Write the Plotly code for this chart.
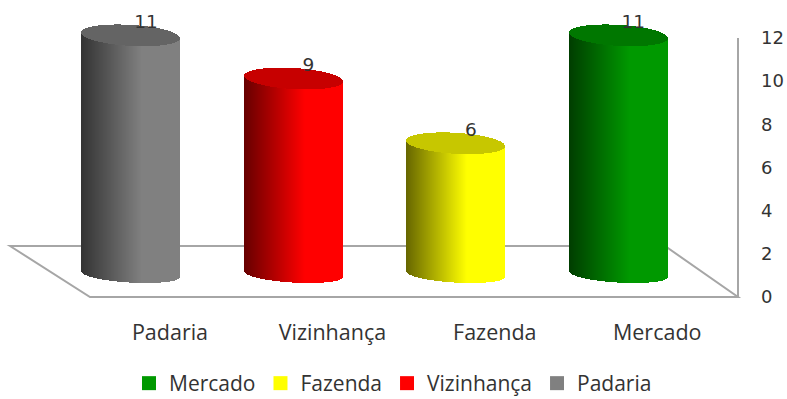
import numpy as np
import plotly.graph_objects as go

categories = ["Padaria", "Vizinhança", "Fazenda", "Mercado"]
values = [11, 9, 6, 11]
base_rgb = [(128, 128, 128), (255, 0, 0), (255, 255, 0), (0, 153, 0)]
legend_order = ["Mercado", "Fazenda", "Vizinhança", "Padaria"]
y_ticks = [0, 2, 4, 6, 8, 10, 12]

W, H = 787, 420                    # paper is a little taller than the window
L, R, B = 60, 738, 297             # plot box in pixels
FLOOR_L = 90                       # front left corner of the floor
Y12 = 38                           # pixel row of the value 12
YMAX = 13.5                        # headroom so the caps are not clamped
PX_Y = (B - Y12) / 12              # pixels per value unit
T = B - YMAX * PX_Y
PX_X = 162.4                       # pixels per category
FIRST = 131                        # pixel centre of first cylinder
LIFT = 1.08                        # floor depth of the cylinder base, value units
TOP_LIFT = 1.14                    # same for the cap centre
A = 49                             # half width in px
TILT = 0.058                       # rim tilt y px per x px
RIM = 10.5                         # cap half height in px
BOTTOM_RIM = 8.5                   # bottom rim half height in px
DARK = "#333333"
GRID = "#a6a6a6"

x0 = (L - FIRST) / PX_X
x1 = (R - FIRST) / PX_X
dxs = np.arange(-A, A) + 0.5


def shade(rgb, f):
    return "rgb(%d,%d,%d)" % tuple(min(255, round(c * f)) for c in rgb)


def px(x):
    return x / W


def py(y):
    return (H - y) / H


fig = go.Figure()
for i, (cat, v, rgb) in enumerate(zip(categories, values, base_rgb)):
    t = (dxs + A) / (2 * A)
    body_col = [shade(rgb, 0.4 + 0.6 * min(1, k / 0.62)) for k in t]
    round_part = np.sqrt(np.clip(1 - (dxs / A) ** 2, 0, 1))
    skew = TILT * dxs
    cx = i + dxs / PX_X
    base = LIFT - (skew + BOTTOM_RIM * round_part) / PX_Y
    top = v + TOP_LIFT - skew / PX_Y
    fig.add_bar(x=cx, y=top - base, base=base, width=1.4 / PX_X,
                marker=dict(color=body_col, line_width=0),
                showlegend=False, hoverinfo="skip", cliponaxis=False)
    cap_low = v + TOP_LIFT - (skew + RIM * round_part) / PX_Y
    cap_high = v + TOP_LIFT - (skew - RIM * round_part) / PX_Y
    fig.add_bar(x=cx, y=cap_high - cap_low, base=cap_low, width=1.4 / PX_X,
                marker=dict(color=[shade(rgb, 0.78)] * len(dxs), line_width=0),
                showlegend=False, hoverinfo="skip", cliponaxis=False)

# data labels
fig.add_scatter(x=[i + 15 / PX_X for i in range(len(values))],
                y=[v + TOP_LIFT + 12 / PX_Y for v in values],
                mode="text", text=[str(v) for v in values],
                textfont=dict(family="DejaVu Sans", size=18.5, color=DARK),
                showlegend=False, hoverinfo="skip", cliponaxis=False)

# legend entries
for name in legend_order:
    rgb = base_rgb[categories.index(name)]
    fig.add_scatter(x=[None], y=[None], mode="markers", name=name,
                    marker=dict(symbol="square", size=14, color=shade(rgb, 1)))

# floor outline
fig.add_shape(type="path", xref="paper", yref="paper",
              path="M %f %f L %f %f L %f %f L %f %f Z" % (
                  px(10), py(246), px(FLOOR_L), py(B), px(R), py(B), px(665), py(246)),
              line=dict(color=GRID, width=2), layer="below")
# value axis line, stopping at the top tick
fig.add_shape(type="line", xref="paper", yref="paper",
              x0=px(R), x1=px(R), y0=py(B), y1=py(Y12),
              line=dict(color=GRID, width=2), layer="below")

fig.update_layout(
    template="none",
    width=W, height=H, autosize=False,
    margin=dict(l=0, r=0, t=0, b=0, pad=0, autoexpand=False),
    paper_bgcolor="white", plot_bgcolor="rgba(0,0,0,0)",
    barmode="overlay", bargap=0,
    font=dict(family="Open Sans", size=21, color=DARK),
    showlegend=True,
    legend=dict(orientation="h", x=px(129), xanchor="left",
                y=py(404), yanchor="bottom",
                font=dict(family="Open Sans", size=21, color=DARK),
                itemwidth=30, bgcolor="rgba(0,0,0,0)"),
    xaxis=dict(domain=[px(L), px(R)], range=[x0, x1], tickmode="array",
               tickvals=[i + 39 / PX_X for i in range(len(categories))],
               ticktext=categories, showgrid=False, zeroline=False,
               showline=False, ticks="", ticklabelstandoff=20, automargin=False,
               tickfont=dict(family="Open Sans", size=21.5, color=DARK)),
    yaxis=dict(domain=[py(B), py(T)], range=[0, YMAX], side="right",
               tickmode="array", tickvals=y_ticks,
               showgrid=False, zeroline=False, showline=False, ticks="",
               ticklabelstandoff=22, automargin=False,
               tickfont=dict(family="DejaVu Sans", size=18, color=DARK)),
)

fig.write_html("out.html", config={"displayModeBar": False},
               post_script="document.body.style.margin='0';document.body.style.overflow='hidden';document.documentElement.style.overflow='hidden';")
